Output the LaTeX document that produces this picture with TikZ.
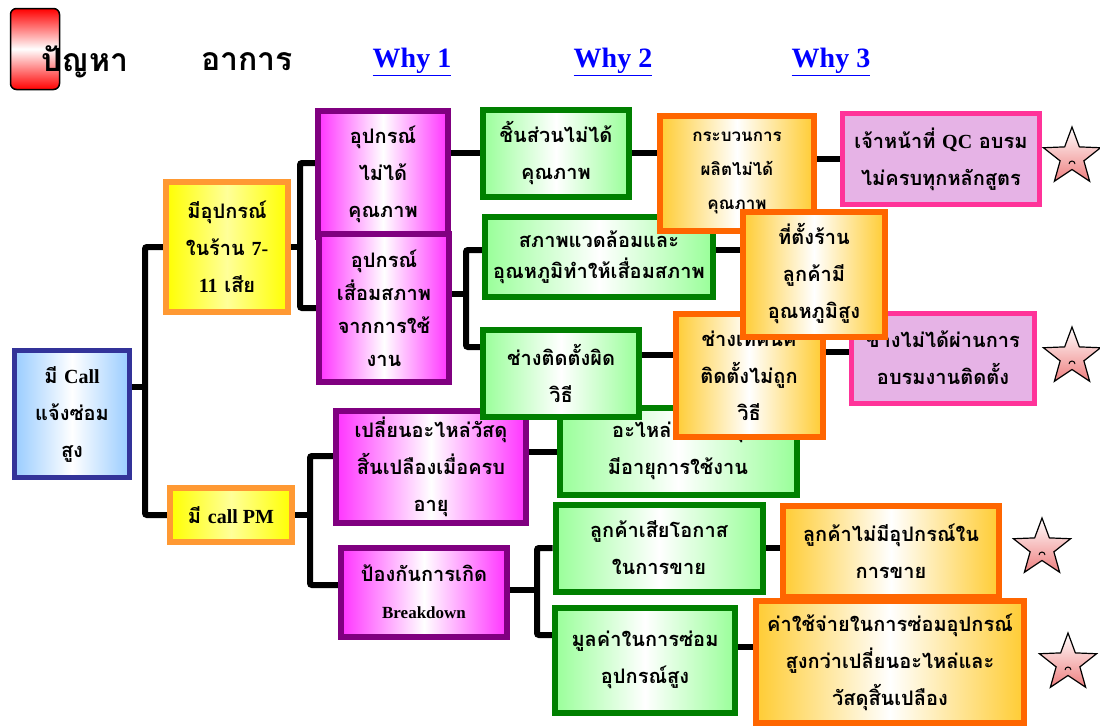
\documentclass[tikz,border=0pt]{standalone}
\usepackage{fontspec}
\setmainfont{Liberation Serif}
\newfontfamily\thaifont[Script=Thai]{Loma}
\usetikzlibrary{shapes.geometric,backgrounds}
\definecolor{navy}{HTML}{333399}
\definecolor{skyblue}{HTML}{99CCFF}
\definecolor{amber}{HTML}{FF9933}
\definecolor{lemon}{HTML}{FFFF00}
\definecolor{paleyellow}{HTML}{FFFF99}
\definecolor{plum}{HTML}{800080}
\definecolor{fuchsia}{HTML}{FF33FF}
\definecolor{leaf}{HTML}{008000}
\definecolor{mint}{HTML}{99FF99}
\definecolor{tangerine}{HTML}{FF6600}
\definecolor{gold}{HTML}{FFCC33}
\definecolor{rosepink}{HTML}{FF3399}
\definecolor{lilac}{HTML}{E6B3E6}
\definecolor{linkblue}{HTML}{0000FF}
\definecolor{starred}{HTML}{EE7F7F}
\newcommand\latin[1]{{\rmfamily\bfseries #1}}
\tikzset{
  box/.style={
    rectangle, line width=6pt, align=center, inner sep=2pt,
    font=\thaifont\bfseries\fontsize{20}{37}\selectfont
  },
  rootbox/.style={box, draw=navy, line width=5pt,
    left color=skyblue, right color=skyblue, middle color=white},
  causebox/.style={box, draw=amber,
    left color=lemon, right color=lemon, middle color=paleyellow},
  symbox/.style={box, draw=plum,
    left color=fuchsia, right color=fuchsia, middle color=white},
  whybox/.style={box, draw=leaf,
    left color=mint, right color=mint, middle color=white},
  deepbox/.style={box, draw=tangerine,
    left color=gold, right color=gold, middle color=white},
  fixbox/.style={box, draw=rosepink, line width=5pt, fill=lilac},
  smalltext/.style={font=\thaifont\bfseries\fontsize{#1}{#1*1.6}\selectfont},
  starmark/.style={
    star, star points=5, star point ratio=2.4, minimum size=60pt,
    draw=black, line width=1.2pt, top color=white, bottom color=starred
  },
  headtext/.style={font=\thaifont\bfseries\fontsize{32}{38}\selectfont},
  whytext/.style={font=\rmfamily\bfseries\fontsize{28}{32}\selectfont,
    text=linkblue},
  link/.style={line width=6pt, draw=black, rounded corners=2pt}
}
\begin{document}
\begin{tikzpicture}[x=1pt, y=-1pt]
  \useasboundingbox (0,0) rectangle (1100,726);

  % header
  \node[draw=black, line width=1.5pt, rounded corners=6pt,
        minimum width=49pt, minimum height=81pt,
        top color=red, bottom color=red, middle color=white]
        (flag) at (35,49) {};
  \node[headtext] (problem) at (85,62) {ปัญหา};
  \node[headtext] (symptom) at (247,62) {อาการ};
  \node[whytext] (why1) at (412,62) {\underline{Why 1}};
  \node[whytext] (why2) at (613,62) {\underline{Why 2}};
  \node[whytext] (why3) at (831,62) {\underline{Why 3}};

  % tree coordinates
  \coordinate (t0) at (145,387);
  \coordinate (t1) at (300,247);
  \coordinate (t2) at (466,294);
  \coordinate (t3) at (310,515);
  \coordinate (t4) at (537,590);

  % boxes
  \node[rootbox, minimum width=115pt, minimum height=127pt] (root) at (72,414)
    {มี \latin{Call}\\แจ้งซ่อม\\สูง};
  \node[causebox, minimum width=122pt, minimum height=130pt] (cause1) at (227,247)
    {มีอุปกรณ์\\ในร้าน \latin{7-}\\\latin{11} เสีย};
  \node[causebox, minimum width=122pt, minimum height=54pt] (cause2) at (231,515)
    {มี \latin{call PM}};

  \node[symbox, minimum width=130pt, minimum height=126pt] (sym1) at (383,174)
    {อุปกรณ์\\ไม่ได้\\คุณภาพ};
  \node[symbox, font=\thaifont\bfseries\fontsize{20}{33}\selectfont,
        minimum width=130pt, minimum height=148pt] (sym2) at (384,308)
    {อุปกรณ์\\เสื่อมสภาพ\\จากการใช้\\งาน};
  \node[symbox, minimum width=190pt, minimum height=112pt] (sym3) at (431,467)
    {เปลี่ยนอะไหล่วัสดุ\\สิ้นเปลืองเมื่อครบ\\อายุ};
  \node[symbox, minimum width=166pt, minimum height=89pt] (sym4) at (424,592)
    {ป้องกันการเกิด\\{\fontsize{17}{31}\selectfont\latin{Breakdown}}};

  \node[whybox, minimum width=146pt, minimum height=87pt] (why1a) at (556,153)
    {ชิ้นส่วนไม่ได้\\คุณภาพ};
  \node[whybox, font=\thaifont\bfseries\fontsize{20}{31}\selectfont,
        minimum width=228pt, minimum height=80pt] (why1b) at (599,257)
    {สภาพแวดล้อมและ\\อุณหภูมิทำให้เสื่อมสภาพ};
  \node[whybox, minimum width=237pt, minimum height=87pt] (why1d) at (678,451)
    {อะไหล่และวัสดุ\\มีอายุการใช้งาน};
  \node[whybox, minimum width=156pt, minimum height=87pt] (why1c) at (561,373)
    {ช่างติดตั้งผิด\\วิธี};
  \node[whybox, minimum width=207pt, minimum height=87pt] (why1e) at (659,548)
    {ลูกค้าเสียโอกาส\\ในการขาย};
  \node[whybox, minimum width=180pt, minimum height=105pt] (why1f) at (645,660)
    {มูลค่าในการซ่อม\\อุปกรณ์สูง};

  \node[deepbox, font=\thaifont\bfseries\fontsize{17}{34}\selectfont,
        minimum width=154pt, minimum height=115pt] (why2a) at (737,173)
    {กระบวนการ\\ผลิตไม่ได้\\คุณภาพ};
  \node[fixbox, minimum width=183pt, minimum height=90pt] (why3b) at (943,358)
    {ช่างไม่ได้ผ่านการ\\อบรมงานติดตั้ง};
  \node[deepbox, minimum width=147pt, minimum height=123pt] (why2c) at (749,375)
    {ช่างเทคนิค\\ติดตั้งไม่ถูก\\วิธี};
  \node[deepbox, minimum width=142pt, minimum height=125pt] (why2b) at (814,274)
    {ที่ตั้งร้าน\\ลูกค้ามี\\อุณหภูมิสูง};
  \node[deepbox, minimum width=216pt, minimum height=91pt] (why2d) at (891,551)
    {ลูกค้าไม่มีอุปกรณ์ใน\\การขาย};
  \node[deepbox, minimum width=268pt, minimum height=122pt] (why2e) at (890,662)
    {ค่าใช้จ่ายในการซ่อมอุปกรณ์\\สูงกว่าเปลี่ยนอะไหล่และ\\วัสดุสิ้นเปลือง};
  \node[fixbox, minimum width=197pt, minimum height=91pt] (why3a) at (941,159)
    {เจ้าหน้าที่ \latin{QC} อบรม\\ไม่ครบทุกหลักสูตร};

  % stars
  \node[starmark] (star1) at (1072,157) {};
  \node[starmark] (star2) at (1072,357) {};
  \node[starmark] (star3) at (1042,548) {};
  \node[starmark] (star4) at (1068,663) {};
  \foreach \s in {star1,star2,star3,star4}
    \draw[line width=1pt] ([xshift=-3pt,yshift=-7pt]\s.center) arc (180:0:3pt);

  % connectors
  \begin{scope}[on background layer]
    \draw[link] (root.east |- t0) -- (t0);
    \draw[link] (cause1.west) -| (t0) |- (cause2.west);
    \draw[link] (cause1.east) -- (t1);
    \draw[link] ([yshift=11pt]sym1.west) -| (t1) |- (sym2.west);
    \draw[link] (sym1.east |- why1a.west) -- (why1a.west);
    \draw[link] (why1a.east) -- (why1a.east -| why2a.west);
    \draw[link] (why2a.east |- why3a.west) -- (why3a.west);
    \draw[link] (sym2.east |- t2) -- (t2);
    \draw[link] ([yshift=7pt]why1b.west) -| (t2) |- ([yshift=26pt]why1c.west);
    \draw[link] ([yshift=7pt]why1b.east) -- ([yshift=7pt]why1b.east -| why2b.west);
    \draw[link] ([yshift=18pt]why1c.east) -- ([yshift=18pt]why1c.east -| why2c.west);
    \draw[link] ([yshift=6pt]why3b.west -| why2c.east) -- ([yshift=6pt]why3b.west);
    \draw[link] (cause2.east) -- (t3);
    \draw[link] ([yshift=11pt]sym3.west) -| (t3) |- ([yshift=7pt]sym4.west);
    \draw[link] ([yshift=15pt]sym3.east -| why1d.west) -- ([yshift=15pt]sym3.east);
    \draw[link] (sym4.east |- t4) -- (t4);
    \draw[link] (why1e.west) -| (t4) |- ([yshift=25pt]why1f.west);
    \draw[link] (why1e.east) -- (why1e.east -| why2d.west);
    \draw[link] ([yshift=13pt]why1f.east) -- ([yshift=13pt]why1f.east -| why2e.west);
  \end{scope}
\end{tikzpicture}
\end{document}
